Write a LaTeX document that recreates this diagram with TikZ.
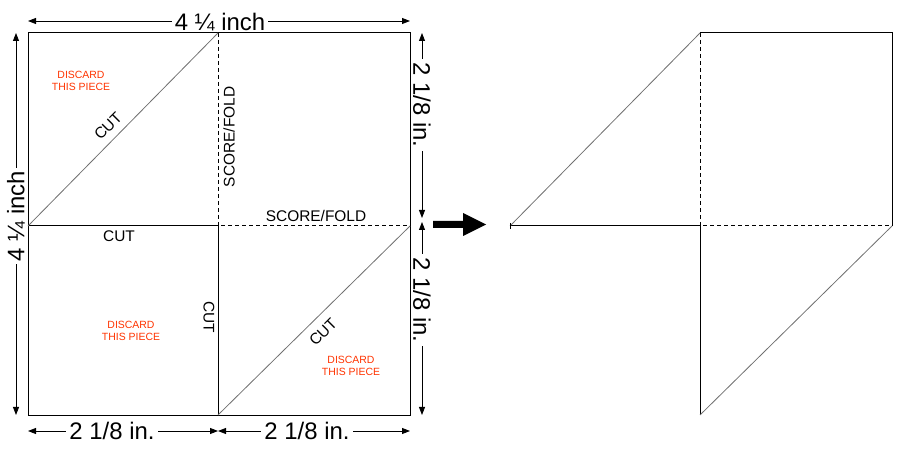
\documentclass[tikz,border=0pt]{standalone}
\usepackage{fontspec}
\setmainfont{Liberation Sans}
\usetikzlibrary{arrows.meta}
\definecolor{discard}{HTML}{FF3300}
\definecolor{cutgray}{HTML}{707070}
\tikzset{
 edge/.style={line width=1bp, black},
 foldline/.style={line width=1bp, dash pattern=on 4bp off 3bp},
 cutline/.style={line width=0.8bp, cutgray},
 dimline/.style={line width=0.9bp, {Triangle[length=8bp,width=6bp]}-{Triangle[length=8bp,width=6bp]}},
 dimlabel/.style={fill=white, inner xsep=3bp, inner ysep=1bp, font=\fontsize{24}{27}\selectfont},
 smalllabel/.style={inner sep=0pt, font=\fontsize{15.5}{18}\selectfont},
 discardlabel/.style={text=discard, align=center, inner sep=0pt, font=\fontsize{10.5}{12}\selectfont},
}
\begin{document}
\begin{tikzpicture}[x=1bp,y=-1bp]
\useasboundingbox (0,0) rectangle (910,449);
% left sheet corners
\coordinate (A) at (28,33);
\coordinate (B) at (410,33);
\coordinate (C) at (410,415);
\coordinate (D) at (28,415);
\coordinate (T) at (218,33);
\coordinate (L) at (28,226);
\coordinate (M) at (218,226);
\coordinate (R) at (410,226);
\coordinate (Bm) at (218,415);
% sheet
\draw[edge] (A) -- (B) -- (C) -- (D) -- cycle;
\draw[edge] (L) -- (M) -- (Bm);
\draw[foldline] (T) -- (M) -- (R);
\draw[cutline] (L) -- (T);
\draw[cutline] (Bm) -- (R);
% labels on sheet
\node[discardlabel] (d1) at (81,81) {DISCARD\\THIS PIECE};
\node[discardlabel] (d2) at (131,331) {DISCARD\\THIS PIECE};
\node[discardlabel] (d3) at (351,366) {DISCARD\\THIS PIECE};
\node[smalllabel, rotate=45] (c1) at (108,126) {CUT};
\node[smalllabel, rotate=90] (s1) at (229,137) {SCORE/FOLD};
\node[smalllabel] (c2) at (119,236) {CUT};
\node[smalllabel] (s2) at (316,216) {SCORE/FOLD};
\node[smalllabel, rotate=-90] (c3) at (209,317) {CUT};
\node[smalllabel, rotate=45] (c4) at (323,332) {CUT};
% dimension arrows
\coordinate (tl) at (28,21);
\coordinate (tr) at (410,21);
\draw[dimline] (tl) -- (tr);
\node[dimlabel] (w) at (220,22) {4 ¼ inch};
\coordinate (lt) at (16,33);
\coordinate (lb) at (16,415);
\draw[dimline] (lt) -- (lb);
\node[dimlabel, rotate=90] (h) at (16,216) {4 ¼ inch};
\coordinate (rt) at (422,33);
\coordinate (rm1) at (422,218);
\coordinate (rm2) at (422,222);
\coordinate (rb) at (422,415);
\draw[dimline] (rt) -- (rm1);
\draw[dimline] (rm2) -- (rb);
\node[dimlabel, rotate=-90] (h1) at (422,105) {2 1/8 in.};
\node[dimlabel, rotate=-90] (h2) at (422,300) {2 1/8 in.};
\coordinate (bl) at (28,431);
\coordinate (bm) at (218,431);
\coordinate (br) at (410,431);
\draw[dimline] (bl) -- (bm);
\draw[dimline] (bm) -- (br);
\node[dimlabel] (w1) at (112,431) {2 1/8 in.};
\node[dimlabel] (w2) at (307,431) {2 1/8 in.};
% big arrow
\fill[black] (433,221) -- (463,221) -- (463,213) -- (486,224.5) -- (463,236) -- (463,228) -- (433,228) -- cycle;
% folded result
\coordinate (A2) at (510,226);
\coordinate (T2) at (700,33);
\coordinate (TR2) at (892,33);
\coordinate (R2) at (892,226);
\coordinate (M2) at (700,226);
\coordinate (B2) at (700,415);
\coordinate (tk1) at (510,223);
\coordinate (tk2) at (510,229);
\draw[edge] (T2) -- (TR2) -- (R2);
\draw[edge] (A2) -- (M2) -- (B2);
\draw[foldline] (T2) -- (M2) -- (R2);
\draw[cutline] (A2) -- (T2);
\draw[cutline] (R2) -- (B2);
\draw[edge] (tk1) -- (tk2);
\end{tikzpicture}
\end{document}
